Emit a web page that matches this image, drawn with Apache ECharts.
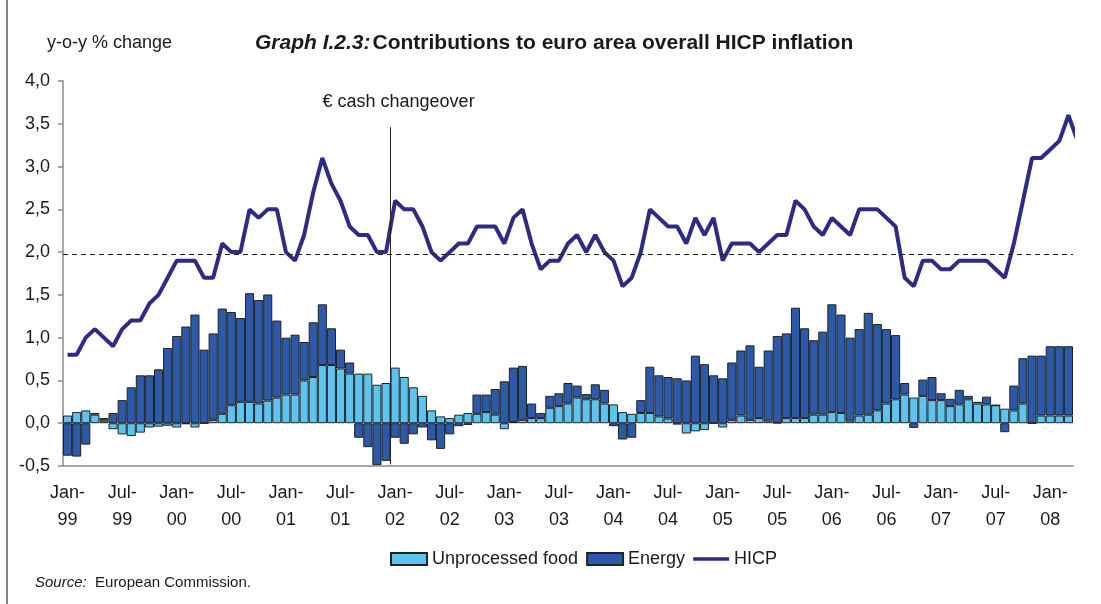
<!DOCTYPE html>
<html>
<head>
<meta charset="utf-8">
<title>Contributions to euro area overall HICP inflation</title>
<script src="https://cdn.jsdelivr.net/npm/echarts@6/dist/echarts.min.js"></script>
<style>
  html, body { margin: 0; padding: 0; background: #fff; }
  #chart { width: 1101px; height: 604px; }
</style>
</head>
<body>
<div id="chart"></div>
<script>
// monthly, Jan-99 .. Mar-08 (HICP goes one month further, Apr-08)
const monthNames = ['Jan', 'Feb', 'Mar', 'Apr', 'May', 'Jun', 'Jul', 'Aug', 'Sep', 'Oct', 'Nov', 'Dec'];
const years = ['99', '00', '01', '02', '03', '04', '05', '06', '07', '08'];

// x tick labels, one every six months
const tickLabels = [
  'Jan-\n99', 'Jul-\n99', 'Jan-\n00', 'Jul-\n00', 'Jan-\n01', 'Jul-\n01', 'Jan-\n02',
  'Jul-\n02', 'Jan-\n03', 'Jul-\n03', 'Jan-\n04', 'Jul-\n04', 'Jan-\n05', 'Jul-\n05',
  'Jan-\n06', 'Jul-\n06', 'Jan-\n07', 'Jul-\n07', 'Jan-\n08'
];

// contribution of unprocessed food (pp)
const food = [
  0.09, 0.13, 0.15, 0.10, 0.03, -0.07, -0.13, -0.15, -0.11, -0.05, -0.04, -0.03,
  -0.05, -0.01, -0.05, 0.00, 0.04, 0.11, 0.21, 0.25, 0.25, 0.23, 0.265, 0.30,
  0.335, 0.335, 0.50, 0.54, 0.68, 0.68, 0.64, 0.58, 0.58, 0.58, 0.45, 0.47,
  0.65, 0.54, 0.42, 0.32, 0.15, 0.08, 0.06, 0.10, 0.12, 0.11, 0.13, 0.10,
  -0.07, 0.015, 0.04, 0.06, 0.06, 0.18, 0.20, 0.23, 0.30, 0.28, 0.28, 0.23,
  0.22, 0.13, 0.11, 0.12, 0.12, 0.08, 0.055, -0.015, -0.12, -0.095, -0.08, 0.00,
  -0.05, 0.04, 0.09, 0.04, 0.06, 0.03, 0.005, 0.06, 0.06, 0.06, 0.10, 0.10,
  0.13, 0.12, 0.03, 0.09, 0.10, 0.15, 0.23, 0.28, 0.335, 0.30, 0.32, 0.27,
  0.27, 0.20, 0.22, 0.28, 0.23, 0.22, 0.21, 0.17, 0.15, 0.23, 0.00, 0.09,
  0.09, 0.09, 0.09
];

// contribution of energy (pp)
const energy = [
  -0.38, -0.39, -0.25, 0.02, 0.03, 0.12, 0.27, 0.42, 0.56, 0.56, 0.63, 0.88,
  1.02, 1.13, 1.27, 0.86, 1.01, 1.23, 1.09, 0.98, 1.27, 1.21, 1.24, 0.90,
  0.665, 0.70, 0.45, 0.64, 0.71, 0.43, 0.22, 0.13, -0.17, -0.28, -0.49, -0.44,
  -0.17, -0.24, -0.13, -0.05, -0.20, -0.30, -0.13, -0.035, -0.02, 0.225, 0.205, 0.30,
  0.49, 0.635, 0.63, 0.17, 0.06, 0.14, 0.15, 0.24, 0.14, 0.06, 0.175, 0.16,
  -0.035, -0.19, -0.17, 0.15, 0.54, 0.48, 0.485, 0.525, 0.50, 0.79, 0.69, 0.56,
  0.525, 0.67, 0.76, 0.87, 0.60, 0.82, 1.015, 0.99, 1.29, 1.05, 0.87, 0.97,
  1.26, 1.15, 0.97, 1.01, 1.19, 1.01, 0.87, 0.75, 0.135, -0.055, 0.19, 0.27,
  0.08, 0.085, 0.17, 0.04, 0.02, 0.09, 0.00, -0.105, 0.29, 0.53, 0.79, 0.70,
  0.81, 0.81, 0.81
];

// headline HICP, y-o-y %
const hicp = [
  0.8, 0.8, 1.0, 1.1, 1.0, 0.9, 1.1, 1.2, 1.2, 1.4, 1.5, 1.7,
  1.9, 1.9, 1.9, 1.7, 1.7, 2.1, 2.0, 2.0, 2.5, 2.4, 2.5, 2.5,
  2.0, 1.9, 2.2, 2.7, 3.1, 2.8, 2.6, 2.3, 2.2, 2.2, 2.0, 2.0,
  2.6, 2.5, 2.5, 2.3, 2.0, 1.9, 2.0, 2.1, 2.1, 2.3, 2.3, 2.3,
  2.1, 2.4, 2.5, 2.1, 1.8, 1.9, 1.9, 2.1, 2.2, 2.0, 2.2, 2.0,
  1.9, 1.6, 1.7, 2.0, 2.5, 2.4, 2.3, 2.3, 2.1, 2.4, 2.2, 2.4,
  1.9, 2.1, 2.1, 2.1, 2.0, 2.1, 2.2, 2.2, 2.6, 2.5, 2.3, 2.2,
  2.4, 2.3, 2.2, 2.5, 2.5, 2.5, 2.4, 2.3, 1.7, 1.6, 1.9, 1.9,
  1.8, 1.8, 1.9, 1.9, 1.9, 1.9, 1.8, 1.7, 2.1, 2.6, 3.1, 3.1,
  3.2, 3.3, 3.6, 3.3
];

// reference lines
const targetLevel = 1.98;
const changeoverMonth = 36; // Jan-02
const changeoverTop = 3.46;
const changeoverBottom = -0.48;

let months = [];
years.forEach((y) => monthNames.forEach((m) => months.push(m + '-' + y)));
months = months.slice(0, food.length);

const ink = '#1a1a1a';
const axisGrey = '#8a8a8a';

let myChart = echarts.init(document.getElementById('chart'));
myChart.setOption({
  animation: false,
  textStyle: { fontFamily: 'Liberation Sans, Arial, sans-serif', color: ink },
  title: [
    {
      text: 'y-o-y % change',
      left: 47,
      top: 34,
      padding: 0,
      textStyle: { fontSize: 18, fontWeight: 'normal', color: ink },
    },
    {
      text: '{i|Graph I.2.3:}{b|Contributions to euro area overall HICP inflation}',
      left: 255,
      top: 33,
      padding: 0,
      textStyle: {
        rich: {
          i: { fontSize: 21, fontStyle: 'italic', color: ink },
          b: { fontSize: 21, fontWeight: 'bold', color: ink, padding: [0, 0, 0, 2] },
        },
      },
    },
    {
      text: '{i|Source:}  European Commission.',
      left: 35,
      top: 575,
      padding: 0,
      textStyle: {
        fontSize: 15,
        fontWeight: 'normal',
        color: ink,
        rich: { i: { fontSize: 15, fontStyle: 'italic', color: ink } },
      },
    },
  ],
  legend: {
    left: 385,
    top: 545,
    itemWidth: 36,
    itemHeight: 12,
    itemGap: 8,
    textStyle: { fontSize: 18, color: ink },
    data: [
      { name: 'Unprocessed food', icon: 'rect' },
      { name: 'Energy', icon: 'rect' },
      // plain line swatch, no marker dot
      { name: 'HICP', icon: 'path://M0 0H40V4H0Z' },
    ],
  },
  grid: { left: 63, right: 28, top: 81, bottom: 138 },
  xAxis: [
    {
      type: 'category',
      data: months,
      boundaryGap: true,
      axisLine: { onZero: false, lineStyle: { color: axisGrey, width: 1.5 } },
      axisTick: {
        interval: (i) => i % 6 === 0,
        length: 5,
        lineStyle: { color: axisGrey, width: 1.5 },
      },
      axisLabel: {
        interval: (i) => i % 6 === 0,
        formatter: (v, i) => tickLabels[i / 6],
        margin: 14,
        fontSize: 18,
        lineHeight: 27,
        color: ink,
      },
      splitLine: { show: false },
    },
    // hidden axis for the line, so HICP can run past the last bar and be clipped
    { type: 'value', min: 0, max: food.length, show: false },
  ],
  yAxis: {
    type: 'value',
    min: -0.5,
    max: 4,
    interval: 0.5,
    axisLine: { show: true, lineStyle: { color: axisGrey, width: 1.5 } },
    axisTick: { show: true, length: 5, lineStyle: { color: axisGrey, width: 1.5 } },
    axisLabel: {
      formatter: (v) => v.toFixed(1).replace('.', ','),
      margin: 13,
      fontSize: 18,
      color: ink,
    },
    splitLine: { show: false },
  },
  series: [
    {
      name: 'Unprocessed food',
      type: 'bar',
      stack: 'contrib',
      data: food,
      barWidth: '100%',
      itemStyle: { color: '#5EC3EE', borderColor: '#222', borderWidth: 1 },
    },
    {
      name: 'Energy',
      type: 'bar',
      stack: 'contrib',
      data: energy,
      barWidth: '100%',
      itemStyle: { color: '#2D5AA8', borderColor: '#222', borderWidth: 1 },
    },
    {
      name: 'HICP',
      type: 'line',
      xAxisIndex: 1,
      data: hicp.map((v, i) => [i + 0.5, v]),
      symbol: 'none',
      z: 3,
      lineStyle: { color: '#2E2A86', width: 4 },
      itemStyle: { color: '#2E2A86' },
      markLine: {
        silent: true,
        symbol: ['none', 'none'],
        data: [
          {
            yAxis: targetLevel,
            lineStyle: { type: [5, 4], color: '#222', width: 1 },
            label: { show: false },
          },
          [
            {
              coord: [changeoverMonth, changeoverTop],
              lineStyle: { type: 'solid', color: '#222', width: 1 },
              label: {
                show: true,
                position: 'start',
                formatter: '€ cash changeover',
                distance: 16,
                padding: [0, 0, 0, 16],
                fontSize: 18,
                color: ink,
              },
            },
            { coord: [changeoverMonth, changeoverBottom] },
          ],
        ],
      },
    },
  ],
  graphic: [
    {
      type: 'line',
      shape: { x1: 7, y1: 0, x2: 7, y2: 604 },
      style: { stroke: '#000', lineWidth: 1 },
    },
  ],
});
</script>
</body>
</html>
